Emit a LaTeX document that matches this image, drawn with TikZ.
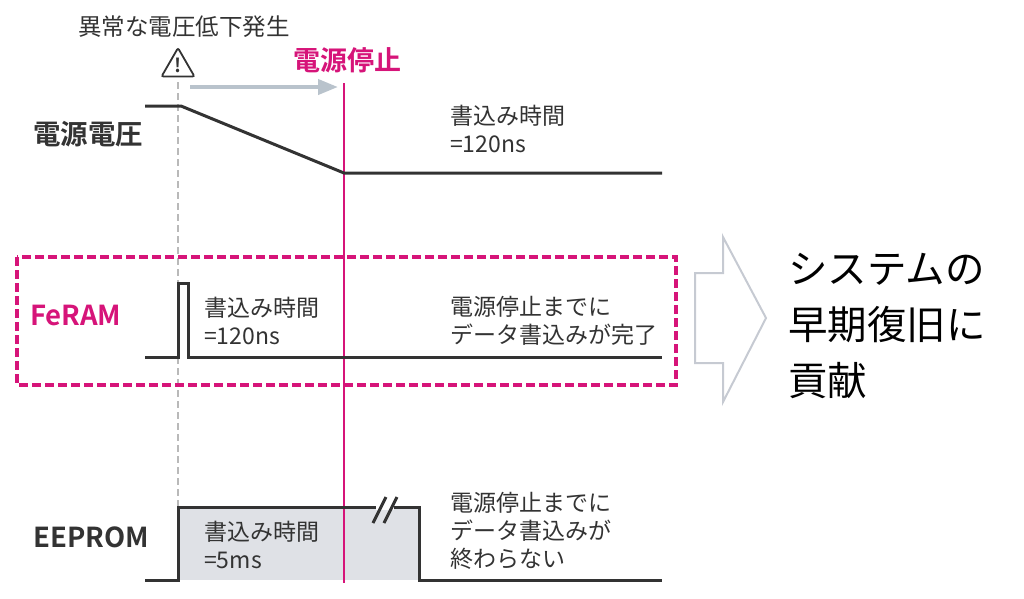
\documentclass[tikz,border=0pt]{standalone}
\usepackage{fontspec}
\setmainfont{Noto Sans CJK JP}[BoldFont={Noto Sans CJK JP Bold}]
\usepackage{tikz}
\usepackage{xcolor}
\usetikzlibrary{shapes.geometric,arrows.meta}
\definecolor{ink}{RGB}{51,51,51}
\definecolor{magen}{RGB}{214,20,121}
\definecolor{guide}{RGB}{185,185,185}
\definecolor{arrowgray}{RGB}{185,195,204}
\definecolor{pulsefill}{RGB}{223,225,230}
\definecolor{bigarrow}{RGB}{198,202,210}

\begin{document}
\begin{tikzpicture}[x=1pt, y=-1pt,
    every node/.style={inner sep=0pt, text=ink},
    txt/.style={anchor=west, align=left, font=\fontsize{23}{28}\selectfont},
    lbl/.style={anchor=west, font=\bfseries\fontsize{27.5}{32}\selectfont},
    wave/.style={draw=ink, line width=3pt},
    warnsign/.style={draw=ink, line width=1.8pt, regular polygon, regular polygon sides=3,
        minimum size=38pt, rounded corners=2pt}]
            \useasboundingbox (0,0) rectangle (1024,598);

            % corner points
            \coordinate (g0) at (178,82);
            \coordinate (g1) at (178,507);
            \coordinate (m0) at (344,83);
            \coordinate (m1) at (344,583);
            \coordinate (a0) at (190,87);
            \coordinate (a1) at (338,87);
            \coordinate (v0) at (145,106);
            \coordinate (v1) at (181,106);
            \coordinate (v2) at (344,173);
            \coordinate (v3) at (662,173);
            \coordinate (f0) at (145,357);
            \coordinate (f1) at (178,357);
            \coordinate (f2) at (178,283);
            \coordinate (f3) at (188,283);
            \coordinate (f4) at (188,357);
            \coordinate (f5) at (662,357);
            \coordinate (e0) at (145,580);
            \coordinate (e1) at (178,580);
            \coordinate (e2) at (178,507);
            \coordinate (e3) at (419,507);
            \coordinate (e4) at (419,580);
            \coordinate (e5) at (662,580);

            \fill[pulsefill] (e1) rectangle (e3);
            \draw[guide, line width=2.8pt, dash pattern=on 7pt off 4pt] (g0) -- (g1);
            \draw[magen, line width=1.6pt] (m0) -- (m1);
            \draw[arrowgray, line width=4pt, -{Triangle[length=20pt, width=15pt]}] (a0) -- (a1);

            \draw[wave] (v0) -- (v1) -- (v2) -- (v3);
            \draw[wave] (f0) -- (f1) -- (f2) -- (f3) -- (f4) -- (f5);
            \draw[wave] (e0) -- (e1) -- (e2) -- (e3) -- (e4) -- (e5);

            % break mark
            \draw[white, line width=5pt] (376,507) -- (394,507);
            \draw[ink, line width=3pt] (373,523) -- (386,497);
            \draw[ink, line width=3pt] (384,523) -- (397,497);

            % FeRAM frame
            \draw[magen, line width=4.5pt, dash pattern=on 9pt off 4pt] (17,257) rectangle (676,385);

            % big arrow
            \draw[bigarrow, line width=2pt] (695,273) -- (723,273) -- (723,237) -- (766,318)
                -- (723,402) -- (723,363) -- (695,363) -- cycle;

            % warning sign
            \node[warnsign] (warn) at (178,67) {};
            \node[font=\bfseries\fontsize{19}{20}\selectfont] (excl) at (178,65) {!};

            % texts
            \node[font=\fontsize{23.5}{28}\selectfont] (alarm) at (184,27) {異常な電圧低下発生};
            \node[font=\bfseries\fontsize{27}{32}\selectfont, text=magen] (stop) at (347,60) {電源停止};
            \node[lbl] (vcc) at (33,134) {電源電圧};
            \node[txt] (vtime) at (450,129) {書込み時間\\=120ns};
            \node[lbl, text=magen] (feram) at (30,315) {FeRAM};
            \node[txt] (ftime) at (204,321) {書込み時間\\=120ns};
            \node[txt] (fdone) at (450,321) {電源停止までに\\データ書込みが完了};
            \node[lbl] (eeprom) at (33,537) {EEPROM};
            \node[txt] (etime) at (204,545) {書込み時間\\=5ms};
            \node[txt] (enot) at (450,531) {電源停止までに\\データ書込みが\\終わらない};
            \node[anchor=west, align=left, text=black, font=\fontsize{39.5}{56}\selectfont] (result) at (788,326) {システムの\\早期復旧に\\貢献};
        \end{tikzpicture}
\end{document}
